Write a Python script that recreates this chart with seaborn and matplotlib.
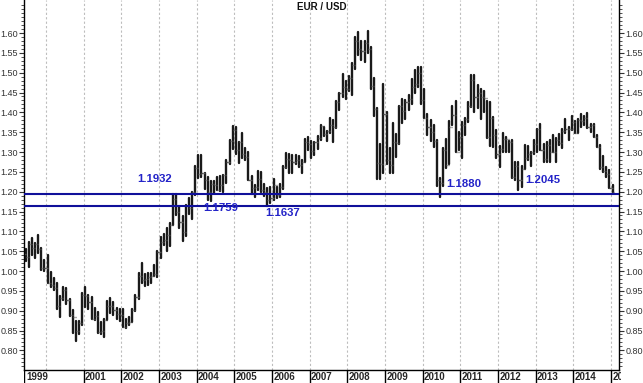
import numpy as np
import pandas as pd
import matplotlib
matplotlib.use('Agg')
import matplotlib.pyplot as plt
import seaborn as sns

# monthly EUR/USD bars, Jun 1999 .. Jan 2015
start_month = '1999-06'
first_open = 1.0430

highs = [
    # 1999 Jun-Dec
    1.0550, 1.0730, 1.0820, 1.0710, 1.0900, 1.0570, 1.0270,
    # 2000
    1.0410, 0.9980, 0.9820, 0.9690, 0.9370, 0.9600, 0.9570, 0.9300, 0.9020, 0.8740, 0.8730, 0.9440,
    # 2001
    0.9595, 0.9400, 0.9340, 0.9070, 0.8960, 0.8720, 0.8800, 0.9250, 0.9330, 0.9220, 0.9060, 0.9040,
    # 2002
    0.9050, 0.8800, 0.8840, 0.9040, 0.9390, 0.9960, 1.0190, 0.9930, 0.9950, 0.9940, 1.0140, 1.0500,
    # 2003
    1.0870, 1.0930, 1.1080, 1.1220, 1.1930, 1.1933, 1.1640, 1.1390, 1.1660, 1.1850, 1.2000, 1.2650,
    # 2004
    1.2930, 1.2930, 1.2470, 1.2380, 1.2280, 1.2270, 1.2360, 1.2400, 1.2430, 1.2810, 1.3300, 1.3667,
    # 2005
    1.3620, 1.3250, 1.3480, 1.3110, 1.3000, 1.2400, 1.2180, 1.2520, 1.2490, 1.2200, 1.2100, 1.2120,
    # 2006
    1.2320, 1.2120, 1.2200, 1.2650, 1.2980, 1.2950, 1.2920, 1.2920, 1.2900, 1.2800, 1.3330, 1.3370,
    # 2007
    1.3280, 1.3250, 1.3400, 1.3680, 1.3620, 1.3540, 1.3850, 1.3800, 1.4280, 1.4500, 1.4970, 1.4800,
    # 2008
    1.4910, 1.5240, 1.5900, 1.6020, 1.5810, 1.5800, 1.6040, 1.5640, 1.4870, 1.4120, 1.3200, 1.4720,
    # 2009
    1.4000, 1.3090, 1.3730, 1.3460, 1.4160, 1.4340, 1.4310, 1.4440, 1.4850, 1.5060, 1.5140, 1.5140,
    # 2010
    1.4580, 1.3960, 1.3800, 1.3690, 1.3300, 1.2350, 1.3100, 1.3330, 1.3790, 1.4160, 1.4280, 1.3500,
    # 2011
    1.3750, 1.3860, 1.4250, 1.4940, 1.4940, 1.4700, 1.4580, 1.4550, 1.4280, 1.4250, 1.3880, 1.3550,
    # 2012
    1.3160, 1.3490, 1.3390, 1.3280, 1.3300, 1.2750, 1.2750, 1.2640, 1.3170, 1.3140, 1.3010, 1.3310,
    # 2013
    1.3590, 1.3710, 1.3200, 1.3240, 1.3300, 1.3420, 1.3350, 1.3450, 1.3570, 1.3830, 1.3620, 1.3900,
    # 2014
    1.3770, 1.3830, 1.3970, 1.3910, 1.3990, 1.3700, 1.3700, 1.3440, 1.3180, 1.2890, 1.2610, 1.2540,
    # 2015 Jan
    1.2160,
]

lows = [
    1.0250, 1.0110, 1.0400, 1.0330, 1.0460, 1.0030, 1.0000,
    0.9700, 0.9600, 0.9520, 0.9050, 0.8844, 0.9280, 0.9180, 0.8860, 0.8440, 0.8230, 0.8400, 0.8640,
    0.9100, 0.9040, 0.8780, 0.8760, 0.8450, 0.8410, 0.8344, 0.8760, 0.8950, 0.8880, 0.8790, 0.8750,
    0.8590, 0.8560, 0.8650, 0.8720, 0.8990, 0.9300, 0.9700, 0.9620, 0.9640, 0.9690, 0.9870, 0.9860,
    1.0340, 1.0650, 1.0500, 1.0620, 1.1150, 1.1400, 1.1080, 1.0765, 1.0880, 1.1440, 1.1320, 1.1920,
    1.2350, 1.2360, 1.2080, 1.1800, 1.1760, 1.1970, 1.2030, 1.2020, 1.2000, 1.2230, 1.2700, 1.3080,
    1.2950, 1.2720, 1.2850, 1.2790, 1.2300, 1.1950, 1.1870, 1.2040, 1.1990, 1.1900, 1.1640, 1.1710,
    1.1800, 1.1830, 1.1860, 1.2080, 1.2600, 1.2460, 1.2460, 1.2690, 1.2620, 1.2480, 1.2740, 1.3050,
    1.2860, 1.2930, 1.3080, 1.3300, 1.3400, 1.3270, 1.3490, 1.3260, 1.3600, 1.4060, 1.4380, 1.4340,
    1.4530, 1.4440, 1.5100, 1.5450, 1.5310, 1.5280, 1.5500, 1.4580, 1.3900, 1.2330, 1.2330, 1.2480,
    1.2700, 1.2460, 1.2460, 1.2880, 1.3200, 1.3740, 1.3830, 1.4050, 1.4220, 1.4480, 1.4640, 1.4220,
    1.3860, 1.3430, 1.3270, 1.3120, 1.2150, 1.1876, 1.2150, 1.2590, 1.2700, 1.3690, 1.3000, 1.3040,
    1.2860, 1.3430, 1.3750, 1.4130, 1.4000, 1.4110, 1.3840, 1.4000, 1.3360, 1.3140, 1.3120, 1.2860,
    1.2620, 1.3000, 1.3000, 1.3000, 1.2350, 1.2290, 1.2042, 1.2130, 1.2560, 1.2800, 1.2660, 1.2940,
    1.2990, 1.3050, 1.2750, 1.2740, 1.2750, 1.3000, 1.2750, 1.3180, 1.3100, 1.3480, 1.3300, 1.3550,
    1.3470, 1.3480, 1.3640, 1.3670, 1.3600, 1.3500, 1.3370, 1.3130, 1.2570, 1.2500, 1.2360, 1.2100,
    1.2000,
]

closes = [
    1.0350, 1.0690, 1.0570, 1.0680, 1.0550, 1.0080, 1.0070,
    0.9710, 0.9650, 0.9570, 0.9120, 0.9330, 0.9520, 0.9260, 0.8880, 0.8830, 0.8480, 0.8700, 0.9390,
    0.9370, 0.9210, 0.8780, 0.8860, 0.8470, 0.8490, 0.8760, 0.9110, 0.9110, 0.9010, 0.8920, 0.8900,
    0.8600, 0.8690, 0.8720, 0.9010, 0.9340, 0.9880, 0.9780, 0.9810, 0.9860, 0.9880, 0.9930, 1.0490,
    1.0730, 1.0780, 1.0910, 1.1170, 1.1810, 1.1500, 1.1240, 1.0990, 1.1650, 1.1590, 1.1990, 1.2590,
    1.2450, 1.2480, 1.2290, 1.1980, 1.2200, 1.2170, 1.2030, 1.2180, 1.2430, 1.2760, 1.3270, 1.3560,
    1.3040, 1.3250, 1.2960, 1.2870, 1.2300, 1.2100, 1.2120, 1.2330, 1.2030, 1.1990, 1.1790, 1.1840,
    1.2160, 1.1920, 1.2120, 1.2620, 1.2830, 1.2790, 1.2760, 1.2810, 1.2680, 1.2760, 1.3240, 1.3200,
    1.3020, 1.3240, 1.3350, 1.3650, 1.3450, 1.3530, 1.3680, 1.3630, 1.4270, 1.4480, 1.4640, 1.4590,
    1.4860, 1.5190, 1.5790, 1.5600, 1.5550, 1.5760, 1.5600, 1.4670, 1.4090, 1.2730, 1.2700, 1.3970,
    1.2800, 1.2670, 1.3250, 1.3230, 1.4150, 1.4030, 1.4250, 1.4330, 1.4640, 1.4720, 1.5000, 1.4320,
    1.3870, 1.3630, 1.3510, 1.3290, 1.2290, 1.2230, 1.3050, 1.2680, 1.3630, 1.3930, 1.3000, 1.3380,
    1.3690, 1.3820, 1.4160, 1.4810, 1.4390, 1.4500, 1.4390, 1.4370, 1.3390, 1.3860, 1.3440, 1.2960,
    1.3080, 1.3340, 1.3340, 1.3240, 1.2370, 1.2660, 1.2300, 1.2580, 1.2860, 1.2960, 1.2990, 1.3190,
    1.3580, 1.3060, 1.2820, 1.3170, 1.2990, 1.3010, 1.3300, 1.3220, 1.3520, 1.3580, 1.3590, 1.3750,
    1.3480, 1.3800, 1.3770, 1.3870, 1.3630, 1.3690, 1.3390, 1.3130, 1.2630, 1.2530, 1.2450, 1.2100,
    1.2000,
]

support_levels = [1.1932, 1.1637]
note_texts = ['1.1932', '1.1759', '1.1637', '1.1880', '1.2045']
note_x = [2002.42, 2004.17, 2005.81, 2010.62, 2012.72]
note_y = [1.232, 1.159, 1.146, 1.219, 1.229]

label_years = [2001, 2002, 2003, 2004, 2005, 2006, 2007, 2008,
               2009, 2010, 2011, 2012, 2013, 2014, 2015]

# ------------------------------------------------
months = pd.period_range(start_month, periods=len(highs), freq='M')
xpos = months.year + (months.month - 0.5) / 12.0
opens = [first_open] + closes[:-1]

bars = pd.DataFrame({
    'bar': np.repeat(np.arange(len(highs)), 2),
    'x': np.repeat(xpos, 2),
    'price': np.ravel(np.column_stack([lows, highs])),
})

sns.set_theme(style='white')
plt.rcParams['font.family'] = ['Liberation Sans', 'DejaVu Sans']

W, H = 643, 383
PX_YEAR = 37.67
fig = plt.figure(figsize=(W / 100, H / 100), dpi=100)
ax = fig.add_axes([24 / W, 13 / H, 595 / W, 370 / H])
band = fig.add_axes([24 / W, 0, 597 / W, 13 / H])

XMIN, XMAX = 1999.416, 2015.212
YMIN, YMAX = 0.7505, 1.6832

# year grid
ax.set_xticks(range(2000, 2016))
ax.set_xticklabels([])
ax.tick_params(axis='x', length=0)
ax.grid(axis='x', color='#bdbdbd', linestyle=(0, (2, 2)), linewidth=0.8)
ax.grid(axis='y', visible=False)

sns.lineplot(data=bars, x='x', y='price', units='bar', estimator=None,
             color='#1a1a1a', linewidth=1.7, ax=ax, legend=False)
ax.hlines(closes, xpos, xpos + 0.03, color='#555555', linewidth=1.0)
ax.hlines(opens, xpos - 0.03, xpos, color='#555555', linewidth=1.0)

for lvl in support_levels:
    ax.axhline(lvl, color='#10109a', linewidth=1.5, zorder=3)

for t, xx, yy in zip(note_texts, note_x, note_y):
    ax.text(xx, yy, t, color='#2323c8', fontsize=8.2, fontweight='bold',
            ha='left', va='center', zorder=4)

ax.text(0.501, 0.995, 'EUR / USD', transform=ax.transAxes, ha='center',
        va='top', fontsize=7, fontweight='bold', color='#111111')

ax.set_xlim(XMIN, XMAX)
ax.set_ylim(YMIN, YMAX)
ax.set_xlabel('')
ax.set_ylabel('')
ax.set_yticks(np.arange(0.80, 1.601, 0.05))
ax.set_yticks(np.arange(0.76, 1.68, 0.01), minor=True)
ax.yaxis.set_major_formatter(matplotlib.ticker.FormatStrFormatter('%.2f'))
ax.tick_params(axis='y', which='both', left=True, right=True,
               labelleft=True, labelright=True, direction='out',
               colors='#333333', labelsize=6.5, pad=1)
ax.tick_params(axis='y', which='major', length=3.5, width=0.8)
ax.tick_params(axis='y', which='minor', length=2, width=0.6)
for side in ['left', 'right', 'bottom']:
    ax.spines[side].set_color('black')
    ax.spines[side].set_linewidth(1.0)
ax.spines['top'].set_visible(False)

# year label strip under the chart
band.set_xlim(XMIN, XMAX + 2 / PX_YEAR)
band.set_ylim(0, 1)
band.axis('off')
band.vlines([XMIN + 0.01] + label_years, 0, 1, color='black', linewidth=1.0)
band.text(XMIN + 0.05, 0.45, '1999', fontsize=7, fontweight='bold',
          ha='left', va='center', clip_on=True)
for yr in label_years:
    band.text(yr + 0.03, 0.45, str(yr), fontsize=7, fontweight='bold',
              ha='left', va='center', clip_on=True)

fig.savefig('out.png', dpi=100, facecolor='white')
